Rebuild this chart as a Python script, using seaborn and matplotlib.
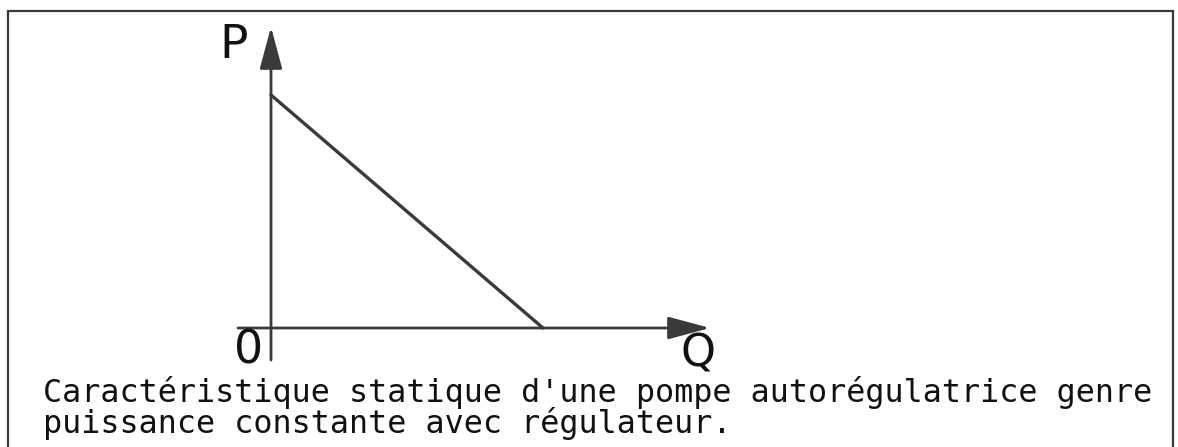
import matplotlib
matplotlib.use("Agg")
import matplotlib.pyplot as plt
import seaborn as sns
import pandas as pd

# ---- data (normalised characteristic: P decreases linearly with Q) ----
Q_values = [0.0, 1.0]
P_values = [1.0, 0.0]
axis_labels = ["P", "Q", "0"]
caption_lines = [
    "Caractéristique statique d'une pompe autorégulatrice genre",
    "puissance constante avec régulateur.",
]

W, H = 1178, 447
sns.set_theme(style="white")
plt.rcParams["font.family"] = ["DejaVu Sans"]

fig = plt.figure(figsize=(W / 100, H / 100), dpi=100)
ax = fig.add_axes([0, 0, 1, 1])
ax.set_axis_off()

# pixel mapping of the data frame: origin at (271, 328), Pmax 233 px up, Qmax 272 px right
ox, oy, sx, sy = 271, 328, 272, 233
ax.set_xlim((0 - ox) / sx, (W - ox) / sx)
ax.set_ylim((oy - H) / sy, oy / sy)

ink = "#3a3a3a"
df = pd.DataFrame({"Q": Q_values, "P": P_values})
sns.lineplot(data=df, x="Q", y="P", ax=ax, color=ink, lw=2.4, legend=False)

arrow = dict(arrowstyle="-|>,head_length=26,head_width=7", mutation_scale=1,
             lw=2.0, color=ink, shrinkA=0, shrinkB=0)
# vertical (P) axis
ax.annotate("", xy=(0, (oy - 27) / sy), xytext=(0, (oy - 360) / sy), arrowprops=arrow)
# horizontal (Q) axis
ax.annotate("", xy=((710 - ox) / sx, 0), xytext=((238 - ox) / sx, 0), arrowprops=arrow)

txt = "#111111"
ax.text((234 - ox) / sx, (oy - 45) / sy, axis_labels[0], fontsize=34, color=txt,
        ha="center", va="center")
ax.text((698 - ox) / sx, (oy - 367) / sy, axis_labels[1], fontsize=32, color=txt,
        ha="center", va="baseline")
ax.text((249 - ox) / sx, (oy - 351) / sy, axis_labels[2], fontsize=33, color=txt,
        ha="center", va="center")

# caption (two lines, monospace)
for line, base in zip(caption_lines, [402, 433]):
    ax.text(43 / W, 1 - base / H, line, transform=ax.transAxes, fontsize=22.9,
            family="DejaVu Sans Mono", color=txt, ha="left", va="baseline")

# frame (top, left, right)
top = 1 - 11 / H
ax.plot([8 / W, 8 / W, 1173 / W, 1173 / W], [0, top, top, 0], transform=ax.transAxes,
        color=ink, lw=1.6, solid_joinstyle="miter", clip_on=False)

fig.savefig("out.png", dpi=100)
